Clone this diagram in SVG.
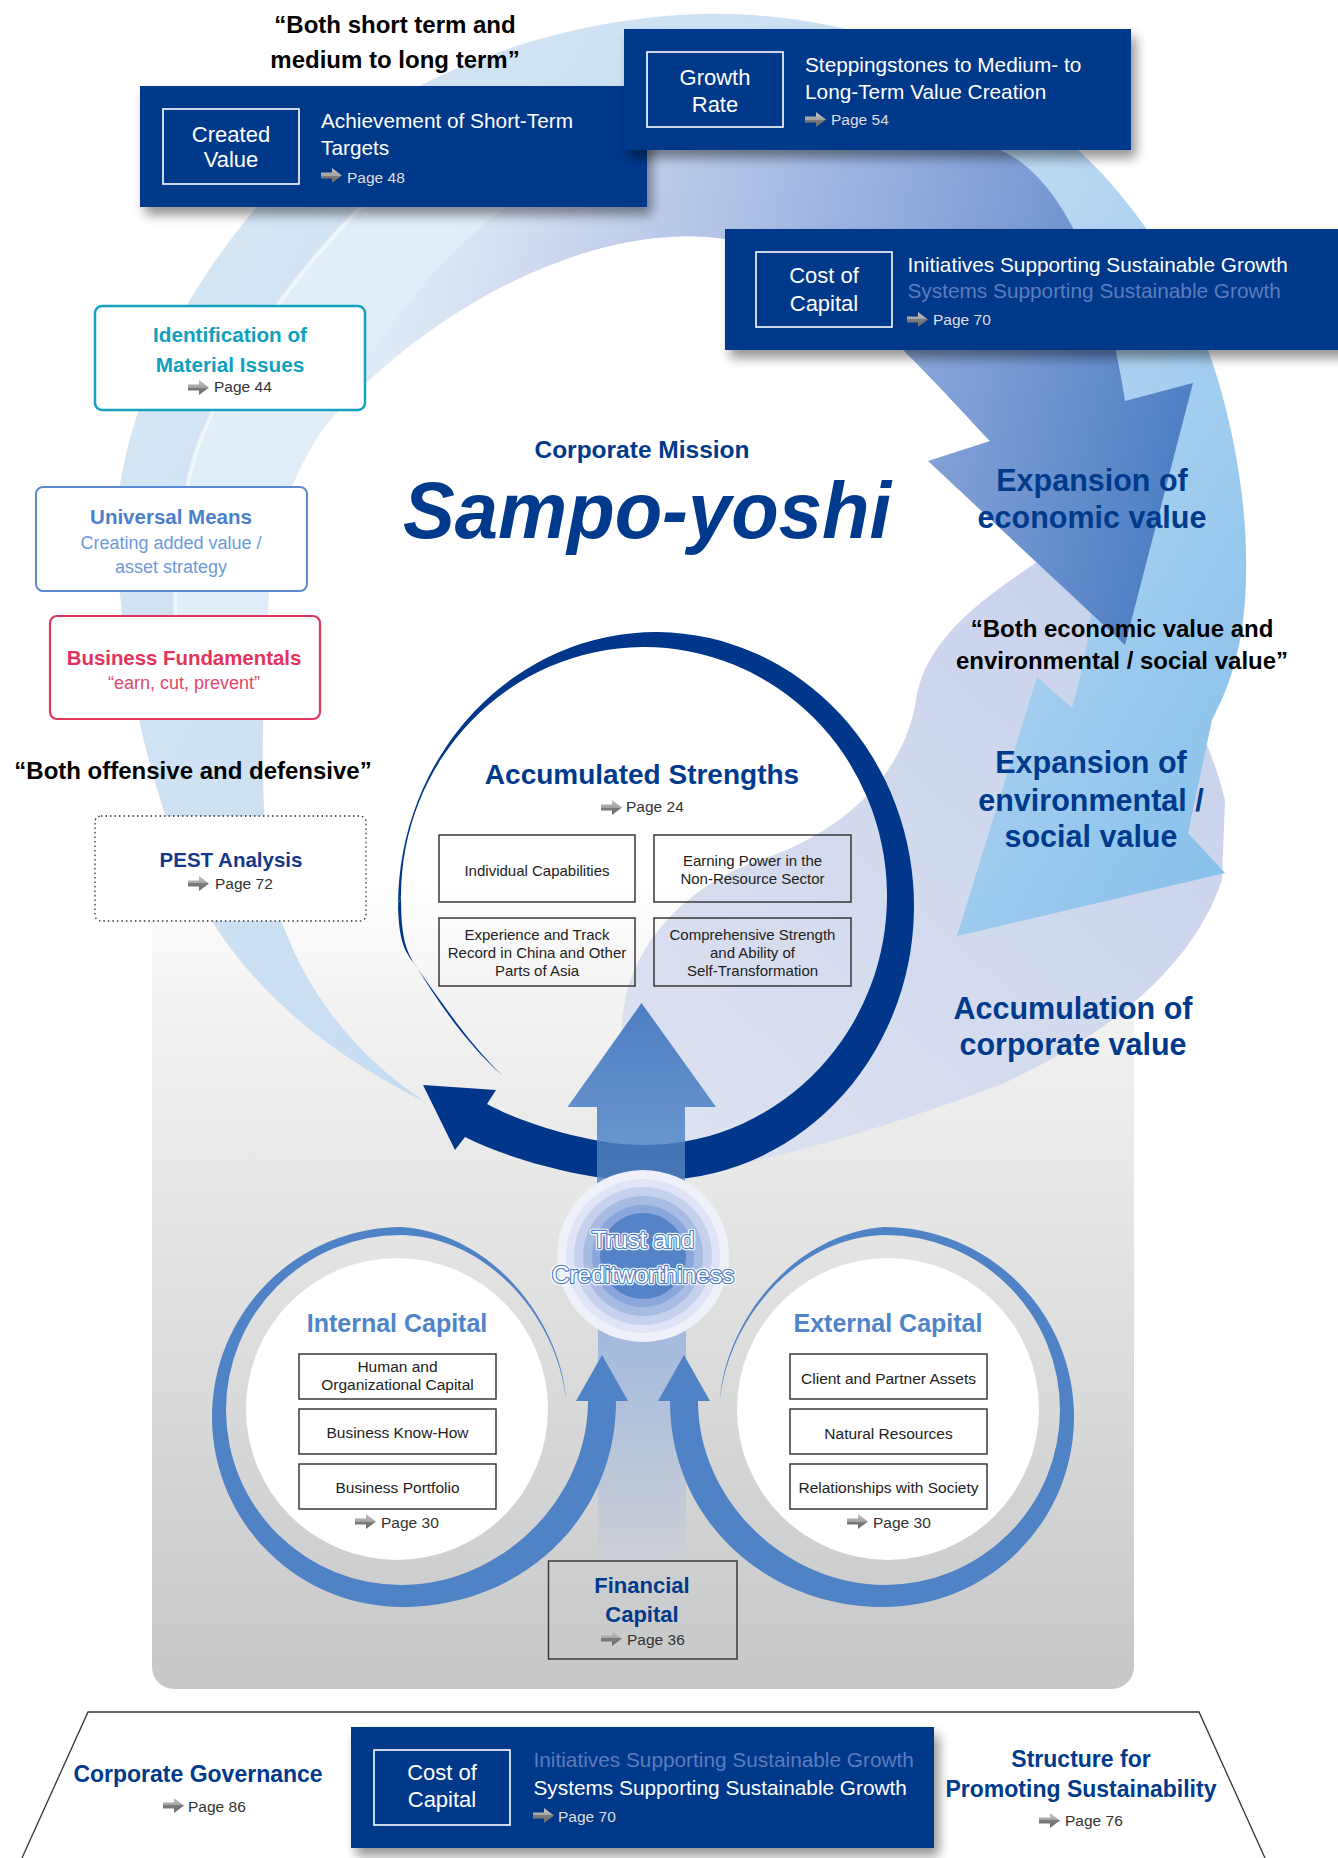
<svg xmlns="http://www.w3.org/2000/svg" width="1338" height="1858" viewBox="0 0 1338 1858">
<defs>
<style>
text{font-family:"Liberation Sans",Arial,Helvetica,sans-serif}
.b{font-weight:bold}
.mid{text-anchor:middle}
.navy{fill:#003a8c}
.pg{font-size:15.5px;fill:#333}
.pgw{font-size:15.5px;fill:#dedede}
.desc{font-size:20.8px;fill:#fff}
.fade{font-size:20.8px;fill:#5b7cbd}
.tag{font-size:22px;fill:#fff;text-anchor:middle}
.dark{fill:#00378a}
.inb{fill:none;stroke:#fff;stroke-width:1.6}
.sbox{fill:none;stroke:#2b2b2b;stroke-width:1.4}
.wbox{fill:#fff;stroke:#2b2b2b;stroke-width:1.4}
.bt{font-size:15px;fill:#222;text-anchor:middle}
.ct{font-size:15.5px;fill:#222;text-anchor:middle}
.big{font-size:30.5px;font-weight:bold;fill:#003a8c;text-anchor:middle}
.quote{font-size:24px;font-weight:bold;fill:#000;text-anchor:middle}
.cap{font-size:25px;font-weight:bold;fill:#4f84c8;text-anchor:middle}
.ring{fill:#5082c6}
.tr{font-size:24.5px;text-anchor:middle;fill:#fff}
</style>
<linearGradient id="gArr" x1="0" y1="0" x2="0" y2="1">
<stop offset="0" stop-color="#c4c4c4"/><stop offset="0.5" stop-color="#a2a2a2"/><stop offset="0.5" stop-color="#7c7c7c"/><stop offset="1" stop-color="#6a6a6a"/>
</linearGradient>
<symbol id="pa" viewBox="0 0 21 15"><path d="M0 4.5H11V0L21 7.5L11 15V10.5H0Z" fill="url(#gArr)"/></symbol>
<linearGradient id="gBg" x1="0" y1="880" x2="0" y2="1689" gradientUnits="userSpaceOnUse">
<stop offset="0" stop-color="#ffffff"/><stop offset="0.15" stop-color="#f3f3f3"/><stop offset="1" stop-color="#c6c7c8"/>
</linearGradient>
<linearGradient id="gL" x1="150" y1="300" x2="1200" y2="900" gradientUnits="userSpaceOnUse">
<stop offset="0" stop-color="#d5e6f4"/><stop offset="0.45" stop-color="#c9def2"/><stop offset="0.75" stop-color="#a8d0f0"/><stop offset="1" stop-color="#89c1ea"/>
</linearGradient>
<linearGradient id="gM" x1="360" y1="300" x2="1170" y2="480" gradientUnits="userSpaceOnUse">
<stop offset="0" stop-color="#d6e1f2" stop-opacity="0"/><stop offset="0.2" stop-color="#cfd9ef"/><stop offset="0.5" stop-color="#a3b8e2"/><stop offset="0.75" stop-color="#7d9dd5"/><stop offset="1" stop-color="#4f80c4"/>
</linearGradient>
<linearGradient id="gP" x1="1150" y1="600" x2="650" y2="1150" gradientUnits="userSpaceOnUse">
<stop offset="0" stop-color="#c8d2ec"/><stop offset="1" stop-color="#dde2f0"/>
</linearGradient>
<linearGradient id="gUp" x1="0" y1="1003" x2="0" y2="1180" gradientUnits="userSpaceOnUse">
<stop offset="0" stop-color="#4e7fc4"/><stop offset="1" stop-color="#6f9ad0"/>
</linearGradient>
<linearGradient id="gCol" x1="0" y1="1330" x2="0" y2="1561" gradientUnits="userSpaceOnUse">
<stop offset="0" stop-color="#a3b9de"/><stop offset="1" stop-color="#cdd0d5"/>
</linearGradient>
<filter id="sh" x="-10%" y="-20%" width="125%" height="160%">
<feGaussianBlur in="SourceAlpha" stdDeviation="6"/><feOffset dx="5" dy="8"/>
<feComponentTransfer><feFuncA type="linear" slope="0.42"/></feComponentTransfer>
<feMerge><feMergeNode/><feMergeNode in="SourceGraphic"/></feMerge>
</filter>
<clipPath id="shaftClip"><rect x="597" y="1100" width="88" height="100"/></clipPath>
<path id="mainRing" d="M398 906A258 274 0 1 1 650 1180C610 1184 520 1165 465 1137L455 1150L423 1085L496 1090L487 1104C520 1122 590 1146 650 1145A243 249 0 1 0 401 896Z"/>
<path id="capRing" d="M566 1400C562 1330 500 1235 402 1227A190 190 0 0 0 212 1417A190 190 0 0 0 402 1607C520 1607 616 1520 616 1401L628 1401L602 1355L576 1401L588 1401C588 1500 500 1585 402 1585A175 175 0 0 1 226 1410A175 175 0 0 1 401 1235C490 1237 558 1320 566 1400Z"/>
</defs>

<rect width="1338" height="1858" fill="#fff"/>

<!-- grey base panel -->
<rect id="base-panel" x="152" y="880" width="982" height="809" rx="22" fill="url(#gBg)"/>

<!-- value-creation swirl -->
<g id="swirl">
<path id="band-accumulation" fill="url(#gP)" d="M1040 560C1120 600 1195 680 1225 800L1222 880C1195 960 1120 1030 1000 1085C880 1130 760 1165 640 1185C620 1130 615 1060 625 1000C640 930 700 880 760 860C850 830 905 770 916 700C925 640 980 600 1040 560Z"/>
<path id="band-environmental" fill="url(#gL)" d="M427 1103C340 1060 240 990 190 880C150 790 112 640 118 500C130 400 180 300 250 215C350 100 520 20 700 14C870 10 1040 80 1140 220C1225 330 1262 520 1240 640C1232 680 1222 700 1212 720L1188 833L1225 873L957 936L1037 677L1072 708C1080 680 1087 650 1090 620C1096 570 1100 520 1090 470C1060 440 1020 430 990 441C960 410 900 340 830 285C780 245 720 228 640 240C540 255 420 320 330 420C290 470 270 540 268 613C262 720 258 820 275 900C300 990 360 1060 427 1103Z"/>
<path fill="#fff" fill-opacity="0.35" d="M470 118C360 188 250 320 200 440C172 520 168 620 185 720L262 720C265 680 266 650 268 613C270 540 290 470 330 420C420 320 540 255 640 240L640 120Z"/>
<path fill="none" stroke="#fff" stroke-opacity="0.55" stroke-width="4" d="M470 118C360 188 250 320 200 440C172 520 168 620 185 720"/>
<path id="band-economic" fill="url(#gM)" d="M330 420C380 330 460 220 580 160C700 110 900 110 1000 150C1070 180 1110 300 1125 401L1193 383L1125 645L928 461L990 441C960 410 900 340 830 285C780 245 720 228 640 240C540 255 420 320 330 420Z"/>
</g>

<!-- pale column rising from financial capital -->
<rect x="598" y="1300" width="88" height="261" fill="url(#gCol)"/>

<!-- accumulated strengths ring -->
<g id="strengths-ring">
<use href="#mainRing" class="dark"/>
<path class="dark" d="M398 906C399 935 402 948 413 962C440 1000 470 1045 503 1076C468 1046 438 1002 416 966C405 950 401 935 401 896Z"/>
<path fill="url(#gUp)" d="M641.5 1003L716 1107L685 1107L685 1200L597 1200L597 1107L567.5 1107Z"/>
<use href="#mainRing" fill="#00378a" fill-opacity="0.35" clip-path="url(#shaftClip)"/>
</g>

<!-- internal / external capital rings -->
<g id="internal-capital">
<circle cx="397" cy="1409" r="151" fill="#fff"/>
<use href="#capRing" class="ring"/>
<text x="397" y="1332" class="cap">Internal Capital</text>
<rect x="299" y="1354" width="197" height="45" class="wbox"/>
<rect x="299" y="1409" width="197" height="45" class="wbox"/>
<rect x="299" y="1464" width="197" height="45" class="wbox"/>
<text x="397.5" y="1372" class="ct">Human and</text>
<text x="397.5" y="1390" class="ct">Organizational Capital</text>
<text x="397.5" y="1437.5" class="ct">Business Know-How</text>
<text x="397.5" y="1492.5" class="ct">Business Portfolio</text>
<use href="#pa" x="355" y="1514" width="21" height="15"/>
<text x="381" y="1528" class="pg">Page 30</text>
</g>
<g id="external-capital">
<circle cx="888" cy="1409" r="151" fill="#fff"/>
<use href="#capRing" class="ring" transform="translate(1286 0) scale(-1 1)"/>
<text x="888" y="1332" class="cap">External Capital</text>
<rect x="790" y="1354" width="197" height="45" class="wbox"/>
<rect x="790" y="1409" width="197" height="45" class="wbox"/>
<rect x="790" y="1464" width="197" height="45" class="wbox"/>
<text x="888.5" y="1384" class="ct">Client and Partner Assets</text>
<text x="888.5" y="1438.5" class="ct">Natural Resources</text>
<text x="888.5" y="1493" class="ct">Relationships with Society</text>
<use href="#pa" x="847" y="1514" width="21" height="15"/>
<text x="873" y="1528" class="pg">Page 30</text>
</g>

<!-- trust and creditworthiness -->
<g id="trust">
<circle cx="643" cy="1256" r="86" fill="#eef1fa"/>
<circle cx="643" cy="1256" r="77" fill="#dfe5f5"/>
<circle cx="643" cy="1256" r="69" fill="#c6d2ed"/>
<circle cx="643" cy="1256" r="60" fill="#a7bbe3"/>
<circle cx="643" cy="1256" r="51" fill="#8aa6da"/>
<circle cx="643" cy="1256" r="43" fill="#5484c7"/>
<text x="643" y="1248" class="tr" stroke="#fff" stroke-width="4.6" stroke-linejoin="round">Trust and</text>
<text x="643" y="1283" class="tr" stroke="#fff" stroke-width="4.6" stroke-linejoin="round">Creditworthiness</text>
<text x="643" y="1248" class="tr" stroke="#5080c4" stroke-width="2.4" stroke-linejoin="round" paint-order="stroke">Trust and</text>
<text x="643" y="1283" class="tr" stroke="#5080c4" stroke-width="2.4" stroke-linejoin="round" paint-order="stroke">Creditworthiness</text>
</g>

<!-- financial capital -->
<g id="financial-capital">
<rect x="548.5" y="1561" width="188.5" height="98" fill="none" stroke="#3a3a3a" stroke-width="1.5"/>
<text x="642" y="1593" class="mid b navy" font-size="22">Financial</text>
<text x="642" y="1622" class="mid b navy" font-size="22">Capital</text>
<use href="#pa" x="601" y="1631" width="21" height="15"/>
<text x="627" y="1644.5" class="pg">Page 36</text>
</g>

<!-- accumulated strengths content -->
<g id="accumulated-strengths">
<text x="642" y="784" class="mid b navy" font-size="28">Accumulated Strengths</text>
<use href="#pa" x="601" y="800" width="21" height="15"/>
<text x="626" y="812" class="pg">Page 24</text>
<rect x="439" y="835" width="196" height="67" class="sbox"/>
<rect x="654" y="835" width="197" height="67" class="sbox"/>
<rect x="439" y="918" width="196" height="68" class="sbox"/>
<rect x="654" y="918" width="197" height="68" class="sbox"/>
<text x="537" y="875.5" class="bt">Individual Capabilities</text>
<text x="752.5" y="866" class="bt">Earning Power in the</text>
<text x="752.5" y="884" class="bt">Non-Resource Sector</text>
<text x="537" y="940" class="bt">Experience and Track</text>
<text x="537" y="958" class="bt">Record in China and Other</text>
<text x="537" y="976" class="bt">Parts of Asia</text>
<text x="752.5" y="940" class="bt">Comprehensive Strength</text>
<text x="752.5" y="958" class="bt">and Ability of</text>
<text x="752.5" y="976" class="bt">Self-Transformation</text>
</g>

<!-- mission -->
<g id="mission">
<text x="642" y="458" class="mid b navy" font-size="24.5">Corporate Mission</text>
<text x="647" y="538" class="mid navy" font-size="80" font-weight="bold" font-style="italic" textLength="488" lengthAdjust="spacingAndGlyphs">Sampo-yoshi</text>
</g>

<!-- value labels on the swirl -->
<g id="value-labels">
<text x="1092" y="491" class="big">Expansion of</text>
<text x="1092" y="528" class="big">economic value</text>
<text x="1122" y="637" class="quote">“Both economic value and</text>
<text x="1122" y="669" class="quote">environmental / social value”</text>
<text x="1091" y="773" class="big">Expansion of</text>
<text x="1091" y="810.5" class="big">environmental /</text>
<text x="1091" y="847" class="big">social value</text>
<text x="1073" y="1019" class="big">Accumulation of</text>
<text x="1073" y="1055" class="big">corporate value</text>
</g>

<!-- top quote -->
<text x="395" y="33" class="quote" font-size="24.4">“Both short term and</text>
<text x="395" y="68" class="quote" font-size="24.4">medium to long term”</text>

<!-- created value -->
<g id="created-value">
<rect x="140" y="86" width="507" height="121" class="dark" filter="url(#sh)"/>
<rect x="163" y="109" width="136" height="75" class="inb"/>
<text x="231" y="142" class="tag">Created</text>
<text x="231" y="167" class="tag">Value</text>
<text x="321" y="128" class="desc">Achievement of Short-Term</text>
<text x="321" y="155" class="desc">Targets</text>
<use href="#pa" x="321" y="168" width="21" height="15"/>
<text x="347" y="183" class="pgw">Page 48</text>
</g>

<!-- growth rate -->
<g id="growth-rate">
<rect x="624" y="29" width="507" height="121" class="dark" filter="url(#sh)"/>
<rect x="647" y="52" width="136" height="75" class="inb"/>
<text x="715" y="85" class="tag">Growth</text>
<text x="715" y="112" class="tag">Rate</text>
<text x="805" y="72" class="desc">Steppingstones to Medium- to</text>
<text x="805" y="99" class="desc">Long-Term Value Creation</text>
<use href="#pa" x="805" y="112" width="21" height="15"/>
<text x="831" y="125" class="pgw">Page 54</text>
</g>

<!-- cost of capital (upper) -->
<g id="cost-of-capital-top">
<rect x="725" y="229" width="640" height="121" class="dark" filter="url(#sh)"/>
<rect x="756" y="252" width="136" height="75" class="inb"/>
<text x="824" y="283" class="tag">Cost of</text>
<text x="824" y="311" class="tag">Capital</text>
<text x="907.5" y="272" class="desc">Initiatives Supporting Sustainable Growth</text>
<text x="907.5" y="298" class="fade">Systems Supporting Sustainable Growth</text>
<use href="#pa" x="907" y="312" width="21" height="15"/>
<text x="933" y="325" class="pgw">Page 70</text>
</g>

<!-- left column of approaches -->
<g id="material-issues">
<rect x="95" y="306" width="270" height="104" rx="7" fill="#fff" stroke="#13a2bf" stroke-width="2.5"/>
<text x="230" y="342" class="mid b" font-size="20.7" fill="#10a0bd">Identification of</text>
<text x="230" y="372" class="mid b" font-size="20.7" fill="#10a0bd">Material Issues</text>
<use href="#pa" x="188" y="380" width="21" height="15"/>
<text x="214" y="392" class="pg">Page 44</text>
</g>
<g id="universal-means">
<rect x="36" y="487" width="271" height="104" rx="7" fill="#fff" stroke="#5b8bd3" stroke-width="2"/>
<text x="171" y="524" class="mid b" font-size="20.5" fill="#4b7fcb">Universal Means</text>
<text x="171" y="548.5" class="mid" font-size="18" fill="#6c9ad8">Creating added value /</text>
<text x="171" y="572.5" class="mid" font-size="18" fill="#6c9ad8">asset strategy</text>
</g>
<g id="business-fundamentals">
<rect x="50" y="616" width="270" height="103" rx="7" fill="#fff" stroke="#e2365e" stroke-width="2.2"/>
<text x="184" y="665" class="mid b" font-size="20.4" fill="#e2335c">Business Fundamentals</text>
<text x="184" y="689" class="mid" font-size="18" fill="#e4466c">“earn, cut, prevent”</text>
</g>
<text x="193" y="779" class="quote">“Both offensive and defensive”</text>
<g id="pest-analysis">
<rect x="95" y="816" width="271" height="105" rx="6" fill="#fff" stroke="#333" stroke-width="1.3" stroke-dasharray="1.5 3"/>
<text x="231" y="867" class="mid b" font-size="20.5" fill="#16388c">PEST Analysis</text>
<use href="#pa" x="188" y="876" width="21" height="15"/>
<text x="215" y="889" class="pg">Page 72</text>
</g>

<!-- governance foundation -->
<g id="foundation">
<path d="M22 1858L88 1712L1199 1712L1265 1858" fill="none" stroke="#333" stroke-width="1.3"/>
<text x="198" y="1782" class="mid b navy" font-size="23">Corporate Governance</text>
<use href="#pa" x="163" y="1798" width="21" height="15"/>
<text x="188" y="1812" class="pg">Page 86</text>
<text x="1081" y="1767" class="mid b navy" font-size="23">Structure for</text>
<text x="1081" y="1797" class="mid b navy" font-size="23">Promoting Sustainability</text>
<use href="#pa" x="1039" y="1813" width="21" height="15"/>
<text x="1065" y="1826" class="pg">Page 76</text>
</g>
<g id="cost-of-capital-bottom">
<rect x="351" y="1727" width="583" height="121" class="dark" filter="url(#sh)"/>
<rect x="374" y="1750" width="136" height="75" class="inb"/>
<text x="442" y="1780" class="tag">Cost of</text>
<text x="442" y="1807" class="tag">Capital</text>
<text x="533.5" y="1767" class="fade">Initiatives Supporting Sustainable Growth</text>
<text x="533.5" y="1795" class="desc">Systems Supporting Sustainable Growth</text>
<use href="#pa" x="533" y="1808" width="21" height="15"/>
<text x="558" y="1822" class="pgw">Page 70</text>
</g>
</svg>
